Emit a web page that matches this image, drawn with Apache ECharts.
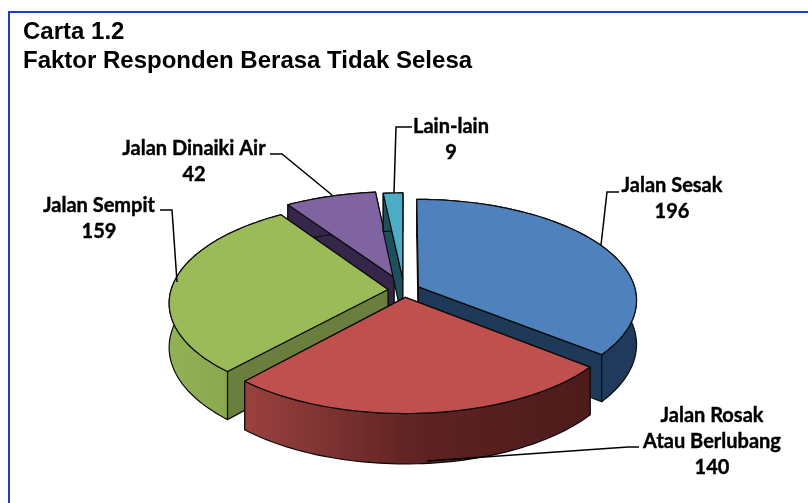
<!DOCTYPE html>
<html>
<head>
<meta charset="utf-8">
<style>
  html, body { margin: 0; padding: 0; background: #fff; }
  #chart { width: 808px; height: 503px; }
</style>
<script src="https://cdn.jsdelivr.net/npm/echarts@6/dist/echarts.min.js"></script>
</head>
<body>
<div id="chart"></div>
<script>
const categories = ["Jalan Sesak", "Jalan Rosak\nAtau Berlubang", "Jalan Sempit", "Jalan Dinaiki Air", "Lain-lain"];
const values = [196, 140, 159, 42, 9];
const titleLines = ["Carta 1.2", "Faktor Responden Berasa Tidak Selesa"];

// how the 3d pie is projected onto the page
const cx = 404, cy = 290, R = 217, tilt = 0.458, persp = 0.127, depth = 43.5;
const explode = [16, 16, 16, 30, 25];
const topColors = ["#4f81bd", "#c0504d", "#9bbb59", "#8064a2", "#4bacc6"];
const sideColors = ["#1f3a58", "#5a2220", "#6a7f3e", "#35264a", "#1d4f5c"];
const wallFrom = ["#1d3450", "#9a413f", "#93b155", "#35264a", "#1d4f5c"];
const wallMid = ["#1f3a5a", "#5e2322", "#8aa84f", "#35264a", "#1d4f5c"];
const wallTo = ["#1f3a5a", "#4c1b1a", "#7f9a49", "#35264a", "#1d4f5c"];
const drawOrder = [3, 5, 4, 1, 2]; // red is in front of everything, purple at the back

const total = values.reduce((a, b) => a + b, 0);

function project(x, y, low) {
  const w = 1 - persp * y / R;
  return [cx + x / w, cy + tilt * y / w + (low ? depth / w : 0)];
}

function renderSlice(params, api) {
  const i = params.dataIndex;
  let before = 0;
  for (let k = 0; k < i; k++) before += values[k];
  const a0 = before / total * Math.PI * 2;
  const a1 = (before + api.value(0)) / total * Math.PI * 2;
  const mid = (a0 + a1) / 2;
  const ox = Math.sin(mid) * explode[i], oy = -Math.cos(mid) * explode[i];
  const rim = (a, low) => project(ox + R * Math.sin(a), oy - R * Math.cos(a), low);
  const steps = Math.max(4, Math.ceil((a1 - a0) * 40));
  const arcTop = [], arcLow = [];
  for (let s = 0; s <= steps; s++) {
    const a = a0 + (a1 - a0) * s / steps;
    arcTop.push(rim(a, false));
    arcLow.push(rim(a, true));
  }
  const apexTop = project(ox, oy, false), apexLow = project(ox, oy, true);
  const line = { stroke: "#0b0b0b", lineWidth: 1.2, lineJoin: "round" };
  const z = drawOrder[i] * 10;
  const poly = (points, fill, z2) => ({
    type: "polygon", z2: z2, shape: { points: points },
    style: Object.assign({ fill: fill }, line)
  });
  const wallFill = new echarts.graphic.LinearGradient(0, 0, 1, 0, [
    { offset: 0, color: wallFrom[i] }, { offset: 0.5, color: wallMid[i] }, { offset: 1, color: wallTo[i] }
  ]);
  // the cut face nearer the viewer has to cover the other one
  const startInFront = arcTop[0][1] > arcTop[steps][1];
  return {
    type: "group",
    children: [
      poly([apexTop, arcTop[0], arcLow[0], apexLow], sideColors[i], z + (startInFront ? 1 : 0)),
      poly([apexTop, arcTop[steps], arcLow[steps], apexLow], sideColors[i], z + (startInFront ? 0 : 1)),
      poly(arcTop.concat(arcLow.slice().reverse()), wallFill, z + 2),
      poly([apexTop].concat(arcTop), topColors[i], z + 3)
    ]
  };
}

const labelFont = {
  fontFamily: "Lato", fontWeight: "bold", fontSize: 20, fill: "#000", textAlign: "center", lineHeight: 26,
  stroke: "#000", lineWidth: 0.4
};
const labelAt = [[672, 199], [712, 442], [99, 219], [194, 162], [451, 140]];
const leaders = [
  [[619, 192], [607, 192], [601, 245]],
  [[639, 447], [628, 447], [427, 461]],
  [[160, 210], [172, 210], [177, 282]],
  [[270, 154], [282, 154], [332, 195]],
  [[412, 127], [396, 127], [394, 193]]
];

const titleFont = { fontFamily: "Liberation Sans", fontWeight: "bold", fontSize: 24, fill: "#000", textVerticalAlign: "middle" };
const graphics = [
  { type: "line", shape: { x1: 8, y1: 12, x2: 808, y2: 12 }, style: { stroke: "#1f3fb8", lineWidth: 2 } },
  { type: "line", shape: { x1: 9, y1: 11, x2: 9, y2: 503 }, style: { stroke: "#1f3fb8", lineWidth: 2 } },
  { type: "text", x: 23, y: 32, style: Object.assign({ text: titleLines[0] }, titleFont) },
  { type: "text", x: 23, y: 61, style: Object.assign({ text: titleLines[1] }, titleFont) }
];
categories.forEach((name, i) => {
  graphics.push({ type: "polyline", z: 20, shape: { points: leaders[i] }, style: { fill: "none", stroke: "#000", lineWidth: 1.5 } });
  graphics.push({
    type: "text", z: 20, x: labelAt[i][0], y: labelAt[i][1],
    style: Object.assign({ text: name + "\n" + values[i], textVerticalAlign: "middle" }, labelFont)
  });
});

const chart = echarts.init(document.getElementById("chart"), null, { renderer: "canvas" });
chart.setOption({
  animation: false,
  backgroundColor: "#fff",
  graphic: graphics,
  series: [{
    type: "custom",
    coordinateSystem: "none",
    renderItem: renderSlice,
    data: values.map((v, i) => ({ name: categories[i], value: [v] }))
  }]
});
</script>
</body>
</html>
